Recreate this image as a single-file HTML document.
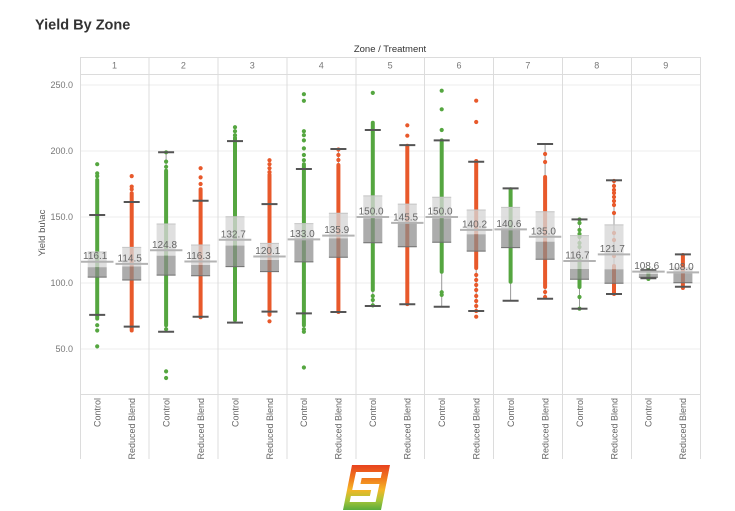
<!DOCTYPE html>
<html><head><meta charset="utf-8"><style>
html,body{margin:0;padding:0;background:#fff;}
svg{display:block;font-family:"Liberation Sans",Arial,sans-serif;}
</style></head><body>
<svg width="735" height="511" viewBox="0 0 735 511" xmlns="http://www.w3.org/2000/svg">
<text x="35" y="29.5" font-size="14.5" font-weight="bold" fill="#333">Yield By Zone</text>
<text x="390" y="52" font-size="9.5" fill="#333" text-anchor="middle">Zone / Treatment</text>
<!-- gridlines -->
<g stroke="#ededed" stroke-width="1">
<line x1="80" x2="700" y1="85" y2="85"/><line x1="80" x2="700" y1="151" y2="151"/><line x1="80" x2="700" y1="217" y2="217"/><line x1="80" x2="700" y1="283" y2="283"/><line x1="80" x2="700" y1="349" y2="349"/>
</g>
<g stroke="#dcdcdc" stroke-width="1">
<line x1="80" x2="700" y1="57.5" y2="57.5"/><line x1="80" x2="700" y1="74.5" y2="74.5"/><line x1="80" x2="700" y1="394.5" y2="394.5"/>
<line x1="80.5" x2="80.5" y1="57" y2="459"/><line x1="149" x2="149" y1="57" y2="459"/><line x1="218" x2="218" y1="57" y2="459"/><line x1="287" x2="287" y1="57" y2="459"/><line x1="356" x2="356" y1="57" y2="459"/><line x1="424.5" x2="424.5" y1="57" y2="459"/><line x1="493.5" x2="493.5" y1="57" y2="459"/><line x1="562.5" x2="562.5" y1="57" y2="459"/><line x1="631.5" x2="631.5" y1="57" y2="459"/><line x1="700.5" x2="700.5" y1="57" y2="459"/>
</g>
<g font-size="9" fill="#777" text-anchor="middle">
<text x="114.5" y="68.5">1</text><text x="183.4" y="68.5">2</text><text x="252.3" y="68.5">3</text><text x="321.2" y="68.5">4</text><text x="390.1" y="68.5">5</text><text x="459" y="68.5">6</text><text x="527.9" y="68.5">7</text><text x="596.8" y="68.5">8</text><text x="665.7" y="68.5">9</text>
</g>
<g font-size="9" fill="#777" text-anchor="end">
<text x="73" y="88">250.0</text><text x="73" y="154">200.0</text><text x="73" y="220">150.0</text><text x="73" y="286">100.0</text><text x="73" y="352">50.0</text>
</g>
<text transform="translate(45,233) rotate(-90)" font-size="9.5" fill="#555" text-anchor="middle">Yield bu\ac</text>
<!-- category labels -->
<g font-size="9" fill="#666" text-anchor="end">
<text transform="translate(100.5,398) rotate(-90)">Control</text><text transform="translate(135,398) rotate(-90)">Reduced Blend</text>
<text transform="translate(169.4,398) rotate(-90)">Control</text><text transform="translate(203.9,398) rotate(-90)">Reduced Blend</text>
<text transform="translate(238.3,398) rotate(-90)">Control</text><text transform="translate(272.8,398) rotate(-90)">Reduced Blend</text>
<text transform="translate(307.2,398) rotate(-90)">Control</text><text transform="translate(341.7,398) rotate(-90)">Reduced Blend</text>
<text transform="translate(376.1,398) rotate(-90)">Control</text><text transform="translate(410.6,398) rotate(-90)">Reduced Blend</text>
<text transform="translate(445,398) rotate(-90)">Control</text><text transform="translate(479.5,398) rotate(-90)">Reduced Blend</text>
<text transform="translate(513.9,398) rotate(-90)">Control</text><text transform="translate(548.4,398) rotate(-90)">Reduced Blend</text>
<text transform="translate(582.8,398) rotate(-90)">Control</text><text transform="translate(617.3,398) rotate(-90)">Reduced Blend</text>
<text transform="translate(651.7,398) rotate(-90)">Control</text><text transform="translate(686.2,398) rotate(-90)">Reduced Blend</text>
</g>

<!-- whisker lines -->
<g stroke="#999" stroke-width="1">
<line x1="97.2" x2="97.2" y1="215" y2="314.9"/><line x1="131.7" x2="131.7" y1="202" y2="326.6"/>
<line x1="166.1" x2="166.1" y1="152.3" y2="331.8"/><line x1="200.6" x2="200.6" y1="200.8" y2="316.7"/>
<line x1="235" x2="235" y1="141.1" y2="322.6"/><line x1="269.5" x2="269.5" y1="204.1" y2="311.6"/>
<line x1="303.9" x2="303.9" y1="169" y2="313.4"/><line x1="338.4" x2="338.4" y1="149" y2="312"/>
<line x1="372.8" x2="372.8" y1="130" y2="306"/><line x1="407.3" x2="407.3" y1="145.1" y2="304.3"/>
<line x1="441.7" x2="441.7" y1="140.4" y2="306.8"/><line x1="476.2" x2="476.2" y1="161.7" y2="311"/>
<line x1="510.6" x2="510.6" y1="188.4" y2="300.7"/><line x1="545.1" x2="545.1" y1="144" y2="298.8"/>
<line x1="579.5" x2="579.5" y1="219.4" y2="308.7"/><line x1="614" x2="614" y1="180.3" y2="294"/>
<line x1="648.4" x2="648.4" y1="270.1" y2="278.3"/><line x1="682.9" x2="682.9" y1="254.4" y2="286.7"/>
</g>

<!-- green dots (Control) -->
<g stroke="#55a640" stroke-width="4" stroke-linecap="round">
<line x1="97.2" x2="97.2" y1="180" y2="318.6"/>
<line x1="166.1" x2="166.1" y1="170.8" y2="325.2"/>
<line x1="235" x2="235" y1="137.8" y2="320"/>
<line x1="303.9" x2="303.9" y1="164.2" y2="325.2"/>
<line x1="372.8" x2="372.8" y1="122.7" y2="290"/>
<line x1="441.7" x2="441.7" y1="140.4" y2="271.7"/>
<line x1="510.6" x2="510.6" y1="189.3" y2="281.7"/>
<line x1="579.5" x2="579.5" y1="260" y2="287"/>
<line x1="648.4" x2="648.4" y1="270" y2="279"/>
</g>
<g fill="#55a640">
<circle cx="97.2" cy="164.2" r="2.1"/><circle cx="97.2" cy="173.4" r="2.1"/><circle cx="97.2" cy="176.1" r="2.1"/><circle cx="97.2" cy="325.2" r="2.1"/><circle cx="97.2" cy="330.5" r="2.1"/><circle cx="97.2" cy="346.4" r="2.1"/>
<circle cx="166.1" cy="152.3" r="2.1"/><circle cx="166.1" cy="161.6" r="2.1"/><circle cx="166.1" cy="166.8" r="2.1"/><circle cx="166.1" cy="329.2" r="2.1"/><circle cx="166.1" cy="371.4" r="2.1"/><circle cx="166.1" cy="378" r="2.1"/>
<circle cx="235" cy="127.2" r="2.1"/><circle cx="235" cy="131.2" r="2.1"/><circle cx="235" cy="135.2" r="2.1"/>
<circle cx="303.9" cy="94.2" r="2.1"/><circle cx="303.9" cy="100.8" r="2.1"/><circle cx="303.9" cy="131.2" r="2.1"/><circle cx="303.9" cy="135.2" r="2.1"/><circle cx="303.9" cy="140.4" r="2.1"/><circle cx="303.9" cy="148.4" r="2.1"/><circle cx="303.9" cy="155" r="2.1"/><circle cx="303.9" cy="160.2" r="2.1"/><circle cx="303.9" cy="329.2" r="2.1"/><circle cx="303.9" cy="331.8" r="2.1"/><circle cx="303.9" cy="367.5" r="2.1"/>
<circle cx="372.8" cy="92.9" r="2.1"/><circle cx="372.8" cy="296" r="2.1"/><circle cx="372.8" cy="300" r="2.1"/><circle cx="372.8" cy="305.4" r="2.1"/>
<circle cx="441.7" cy="90.7" r="2.1"/><circle cx="441.7" cy="109.3" r="2.1"/><circle cx="441.7" cy="130" r="2.1"/><circle cx="441.7" cy="292.2" r="2.1"/><circle cx="441.7" cy="294.9" r="2.1"/>
<circle cx="579.5" cy="219.5" r="2.1"/><circle cx="579.5" cy="223" r="2.1"/><circle cx="579.5" cy="230" r="2.1"/><circle cx="579.5" cy="234" r="2.1"/><circle cx="579.5" cy="237" r="2.1"/><circle cx="579.5" cy="243" r="2.1"/><circle cx="579.5" cy="247" r="2.1"/><circle cx="579.5" cy="297" r="2.1"/><circle cx="579.5" cy="308.7" r="2.1"/>
</g>

<!-- orange dots (Reduced Blend) -->
<g stroke="#e8592b" stroke-width="4" stroke-linecap="round">
<line x1="131.7" x2="131.7" y1="193.2" y2="330.5"/>
<line x1="200.6" x2="200.6" y1="189.3" y2="317.3"/>
<line x1="269.5" x2="269.5" y1="174.8" y2="314.7"/>
<line x1="338.4" x2="338.4" y1="165" y2="312"/>
<line x1="407.3" x2="407.3" y1="145.7" y2="304.1"/>
<line x1="476.2" x2="476.2" y1="161" y2="268"/>
<line x1="545.1" x2="545.1" y1="177" y2="287"/>
<line x1="614" x2="614" y1="266" y2="294"/>
<line x1="682.9" x2="682.9" y1="255" y2="288"/>
</g>
<g fill="#e8592b">
<circle cx="131.7" cy="176.1" r="2.1"/><circle cx="131.7" cy="186.6" r="2.1"/><circle cx="131.7" cy="189.3" r="2.1"/>
<circle cx="200.6" cy="168.2" r="2.1"/><circle cx="200.6" cy="177.4" r="2.1"/><circle cx="200.6" cy="184" r="2.1"/>
<circle cx="269.5" cy="160.2" r="2.1"/><circle cx="269.5" cy="164.2" r="2.1"/><circle cx="269.5" cy="168.2" r="2.1"/><circle cx="269.5" cy="172.1" r="2.1"/><circle cx="269.5" cy="321.3" r="2.1"/>
<circle cx="338.4" cy="149.5" r="2.1"/><circle cx="338.4" cy="155" r="2.1"/><circle cx="338.4" cy="160" r="2.1"/>
<circle cx="407.3" cy="125.3" r="2.1"/><circle cx="407.3" cy="135.7" r="2.1"/>
<circle cx="476.2" cy="100.7" r="2.1"/><circle cx="476.2" cy="122" r="2.1"/><circle cx="476.2" cy="275" r="2.1"/><circle cx="476.2" cy="280" r="2.1"/><circle cx="476.2" cy="285" r="2.1"/><circle cx="476.2" cy="290" r="2.1"/><circle cx="476.2" cy="296" r="2.1"/><circle cx="476.2" cy="301" r="2.1"/><circle cx="476.2" cy="306" r="2.1"/><circle cx="476.2" cy="311" r="2.1"/><circle cx="476.2" cy="316.7" r="2.1"/>
<circle cx="545.1" cy="154" r="2.1"/><circle cx="545.1" cy="162" r="2.1"/><circle cx="545.1" cy="292" r="2.1"/><circle cx="545.1" cy="297" r="2.1"/>
<circle cx="614" cy="181" r="2.1"/><circle cx="614" cy="186" r="2.1"/><circle cx="614" cy="190" r="2.1"/><circle cx="614" cy="193" r="2.1"/><circle cx="614" cy="197" r="2.1"/><circle cx="614" cy="201" r="2.1"/><circle cx="614" cy="205" r="2.1"/><circle cx="614" cy="213" r="2.1"/><circle cx="614" cy="233" r="2.1"/><circle cx="614" cy="240" r="2.1"/><circle cx="614" cy="256" r="2.1"/>
</g>

<!-- boxes upper (Q3-median) -->
<g fill="#d6d6d6" fill-opacity="0.78">
<rect x="87.7" y="252" width="19" height="15.2"/><rect x="122.2" y="247.4" width="19" height="19.1"/>
<rect x="156.6" y="224" width="19" height="31.7"/><rect x="191.1" y="245" width="19" height="20"/>
<rect x="225.5" y="216.7" width="19" height="28.9"/><rect x="260" y="243.4" width="19" height="16.6"/>
<rect x="294.4" y="223.6" width="19" height="16.4"/><rect x="328.9" y="213.3" width="19" height="25.1"/>
<rect x="363.3" y="195.9" width="19" height="22.4"/><rect x="397.8" y="204.1" width="19" height="19.2"/>
<rect x="432.2" y="197.2" width="19" height="21.1"/><rect x="466.7" y="210" width="19" height="24.3"/>
<rect x="501.1" y="207.4" width="19" height="22"/><rect x="535.6" y="211.7" width="19" height="30"/>
<rect x="570" y="235.6" width="19" height="33.4"/><rect x="604.5" y="224.9" width="19" height="44.4"/>
<rect x="638.9" y="271" width="19" height="3"/><rect x="673.4" y="267.3" width="19" height="6"/>
</g>
<!-- boxes lower (median-Q1) -->
<g fill="#8c8c8c" fill-opacity="0.72">
<rect x="87.7" y="267.2" width="19" height="9.9"/><rect x="122.2" y="266.5" width="19" height="13.5"/>
<rect x="156.6" y="255.7" width="19" height="19.4"/><rect x="191.1" y="265" width="19" height="10.7"/>
<rect x="225.5" y="245.6" width="19" height="21"/><rect x="260" y="260" width="19" height="11.6"/>
<rect x="294.4" y="240" width="19" height="21.9"/><rect x="328.9" y="238.4" width="19" height="18.9"/>
<rect x="363.3" y="218.3" width="19" height="24.4"/><rect x="397.8" y="223.3" width="19" height="23.4"/>
<rect x="432.2" y="218.3" width="19" height="24"/><rect x="466.7" y="234.3" width="19" height="16.8"/>
<rect x="501.1" y="229.4" width="19" height="18.2"/><rect x="535.6" y="241.7" width="19" height="17.5"/>
<rect x="570" y="269" width="19" height="10.3"/><rect x="604.5" y="269.3" width="19" height="14"/>
<rect x="638.9" y="274" width="19" height="3.3"/><rect x="673.4" y="273.3" width="19" height="9.4"/>
</g>
<!-- box outlines top/bottom -->
<g stroke="#c4c4c4" stroke-width="1">
<line x1="87.7" x2="106.7" y1="252" y2="252"/><line x1="122.2" x2="141.2" y1="247.4" y2="247.4"/>
<line x1="156.6" x2="175.6" y1="224" y2="224"/><line x1="191.1" x2="210.1" y1="245" y2="245"/>
<line x1="225.5" x2="244.5" y1="216.7" y2="216.7"/><line x1="260" x2="279" y1="243.4" y2="243.4"/>
<line x1="294.4" x2="313.4" y1="223.6" y2="223.6"/><line x1="328.9" x2="347.9" y1="213.3" y2="213.3"/>
<line x1="363.3" x2="382.3" y1="195.9" y2="195.9"/><line x1="397.8" x2="416.8" y1="204.1" y2="204.1"/>
<line x1="432.2" x2="451.2" y1="197.2" y2="197.2"/><line x1="466.7" x2="485.7" y1="210" y2="210"/>
<line x1="501.1" x2="520.1" y1="207.4" y2="207.4"/><line x1="535.6" x2="554.6" y1="211.7" y2="211.7"/>
<line x1="570" x2="589" y1="235.6" y2="235.6"/><line x1="604.5" x2="623.5" y1="224.9" y2="224.9"/>
</g>
<g stroke="#6e6e6e" stroke-width="1">
<line x1="87.7" x2="106.7" y1="277.1" y2="277.1"/><line x1="122.2" x2="141.2" y1="280" y2="280"/>
<line x1="156.6" x2="175.6" y1="275.1" y2="275.1"/><line x1="191.1" x2="210.1" y1="275.7" y2="275.7"/>
<line x1="225.5" x2="244.5" y1="266.6" y2="266.6"/><line x1="260" x2="279" y1="271.6" y2="271.6"/>
<line x1="294.4" x2="313.4" y1="261.9" y2="261.9"/><line x1="328.9" x2="347.9" y1="257.3" y2="257.3"/>
<line x1="363.3" x2="382.3" y1="242.7" y2="242.7"/><line x1="397.8" x2="416.8" y1="246.7" y2="246.7"/>
<line x1="432.2" x2="451.2" y1="242.3" y2="242.3"/><line x1="466.7" x2="485.7" y1="251.1" y2="251.1"/>
<line x1="501.1" x2="520.1" y1="247.6" y2="247.6"/><line x1="535.6" x2="554.6" y1="259.2" y2="259.2"/>
<line x1="570" x2="589" y1="279.3" y2="279.3"/><line x1="604.5" x2="623.5" y1="283.3" y2="283.3"/>
<line x1="638.9" x2="657.9" y1="277.3" y2="277.3"/><line x1="673.4" x2="692.4" y1="282.7" y2="282.7"/>
</g>
<!-- whisker caps -->
<g stroke="#555" stroke-width="2">
<line x1="89.2" x2="105.2" y1="215" y2="215"/><line x1="89.2" x2="105.2" y1="314.9" y2="314.9"/>
<line x1="123.7" x2="139.7" y1="202" y2="202"/><line x1="123.7" x2="139.7" y1="326.6" y2="326.6"/>
<line x1="158.1" x2="174.1" y1="152.3" y2="152.3"/><line x1="158.1" x2="174.1" y1="331.8" y2="331.8"/>
<line x1="192.6" x2="208.6" y1="200.8" y2="200.8"/><line x1="192.6" x2="208.6" y1="316.7" y2="316.7"/>
<line x1="227" x2="243" y1="141.1" y2="141.1"/><line x1="227" x2="243" y1="322.6" y2="322.6"/>
<line x1="261.5" x2="277.5" y1="204.1" y2="204.1"/><line x1="261.5" x2="277.5" y1="311.6" y2="311.6"/>
<line x1="295.9" x2="311.9" y1="169" y2="169"/><line x1="295.9" x2="311.9" y1="313.4" y2="313.4"/>
<line x1="330.4" x2="346.4" y1="149" y2="149"/><line x1="330.4" x2="346.4" y1="312" y2="312"/>
<line x1="364.8" x2="380.8" y1="130" y2="130"/><line x1="364.8" x2="380.8" y1="306" y2="306"/>
<line x1="399.3" x2="415.3" y1="145.1" y2="145.1"/><line x1="399.3" x2="415.3" y1="304.3" y2="304.3"/>
<line x1="433.7" x2="449.7" y1="140.4" y2="140.4"/><line x1="433.7" x2="449.7" y1="306.8" y2="306.8"/>
<line x1="468.2" x2="484.2" y1="161.7" y2="161.7"/><line x1="468.2" x2="484.2" y1="311" y2="311"/>
<line x1="502.6" x2="518.6" y1="188.4" y2="188.4"/><line x1="502.6" x2="518.6" y1="300.7" y2="300.7"/>
<line x1="537.1" x2="553.1" y1="144" y2="144"/><line x1="537.1" x2="553.1" y1="298.8" y2="298.8"/>
<line x1="571.5" x2="587.5" y1="219.4" y2="219.4"/><line x1="571.5" x2="587.5" y1="308.7" y2="308.7"/>
<line x1="606" x2="622" y1="180.3" y2="180.3"/><line x1="606" x2="622" y1="294" y2="294"/>
<line x1="640.4" x2="656.4" y1="270.1" y2="270.1"/><line x1="640.4" x2="656.4" y1="278.3" y2="278.3"/>
<line x1="674.9" x2="690.9" y1="254.4" y2="254.4"/><line x1="674.9" x2="690.9" y1="286.7" y2="286.7"/>
</g>
<!-- mean lines -->
<g stroke="#b3b3b3" stroke-width="2">
<line x1="81" x2="113.5" y1="261.7" y2="261.7"/><line x1="115.5" x2="148" y1="263.9" y2="263.9"/>
<line x1="150" x2="182.4" y1="250.3" y2="250.3"/><line x1="184.4" x2="216.8" y1="261.5" y2="261.5"/>
<line x1="218.8" x2="251.3" y1="239.8" y2="239.8"/><line x1="253.3" x2="285.7" y1="256.5" y2="256.5"/>
<line x1="287.7" x2="320.2" y1="239.4" y2="239.4"/><line x1="322.2" x2="354.6" y1="235.6" y2="235.6"/>
<line x1="356.6" x2="389.1" y1="217" y2="217"/><line x1="391.1" x2="423.5" y1="222.9" y2="222.9"/>
<line x1="425.5" x2="458" y1="217" y2="217"/><line x1="460" x2="492.4" y1="229.9" y2="229.9"/>
<line x1="494.4" x2="526.9" y1="229.4" y2="229.4"/><line x1="528.9" x2="561.3" y1="236.8" y2="236.8"/>
<line x1="563.3" x2="595.8" y1="261" y2="261"/><line x1="597.8" x2="630.2" y1="254.4" y2="254.4"/>
<line x1="632.2" x2="664.7" y1="271.6" y2="271.6"/><line x1="666.7" x2="699.1" y1="272.4" y2="272.4"/>
</g>
<g font-size="10" fill="#666">
<text x="83" y="259.2">116.1</text><text x="117.5" y="261.4">114.5</text>
<text x="152" y="247.8">124.8</text><text x="186.4" y="259">116.3</text>
<text x="220.8" y="237.3">132.7</text><text x="255.3" y="254">120.1</text>
<text x="289.7" y="236.9">133.0</text><text x="324.2" y="233.1">135.9</text>
<text x="358.6" y="214.5">150.0</text><text x="393.1" y="220.4">145.5</text>
<text x="427.5" y="214.5">150.0</text><text x="462" y="227.4">140.2</text>
<text x="496.4" y="226.9">140.6</text><text x="530.9" y="234.3">135.0</text>
<text x="565.3" y="258.5">116.7</text><text x="599.8" y="251.9">121.7</text>
<text x="634.2" y="269.1">108.6</text><text x="668.7" y="269.9">108.0</text>
</g>

<!-- logo -->
<defs>
<linearGradient id="lg" x1="0" y1="0" x2="0" y2="1">
<stop offset="0" stop-color="#e8421e"/>
<stop offset="0.3" stop-color="#f07a1d"/>
<stop offset="0.55" stop-color="#f5b526"/>
<stop offset="0.78" stop-color="#a9c537"/>
<stop offset="1" stop-color="#5aac3c"/>
</linearGradient>
</defs>
<polygon points="352,465 390,465 381,510 343,510" fill="url(#lg)"/>
<g transform="translate(356,472) skewX(-12)">
<polygon points="0,0 26,0 26,6 7,6 7,12 26,12 26,30 0,30 0,24 19,24 19,18 0,18" fill="#fff"/>
</g>
</svg>
</body></html>
